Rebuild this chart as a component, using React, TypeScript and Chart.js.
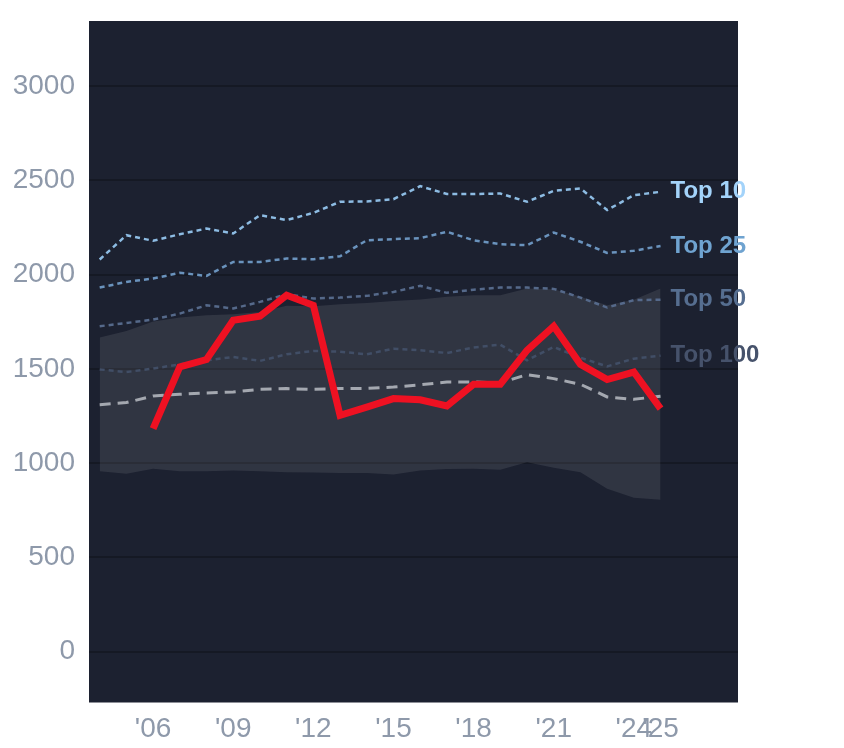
import { useEffect, useRef } from "react";
import { Chart, registerables } from "chart.js";

Chart.register(...registerables);

const years = [2004, 2005, 2006, 2007, 2008, 2009, 2010, 2011, 2012, 2013, 2014, 2015, 2016, 2017, 2018, 2019, 2020, 2021, 2022, 2023, 2024, 2025];
const top10 = [2080, 2209, 2179, 2214, 2244, 2218, 2315, 2289, 2327, 2386, 2388, 2400, 2469, 2427, 2427, 2430, 2386, 2444, 2457, 2342, 2421, 2439];
const top25 = [1931, 1961, 1979, 2009, 1993, 2067, 2067, 2085, 2081, 2097, 2182, 2188, 2193, 2227, 2182, 2161, 2156, 2223, 2174, 2115, 2126, 2152];
const top50 = [1726, 1743, 1761, 1793, 1837, 1820, 1855, 1896, 1873, 1878, 1887, 1908, 1940, 1903, 1920, 1931, 1931, 1924, 1878, 1825, 1864, 1867];
const top100 = [1497, 1483, 1501, 1524, 1545, 1563, 1542, 1577, 1595, 1591, 1577, 1607, 1598, 1584, 1613, 1628, 1545, 1616, 1559, 1513, 1554, 1570];
const median = [1310, 1321, 1356, 1365, 1372, 1377, 1391, 1395, 1391, 1395, 1396, 1403, 1415, 1430, 1430, 1425, 1469, 1448, 1418, 1351, 1338, 1355];
const bandHigh = [1666, 1701, 1751, 1772, 1784, 1789, 1802, 1834, 1832, 1843, 1849, 1860, 1868, 1882, 1890, 1890, 1926, 1922, 1882, 1837, 1867, 1926];
const bandLow = [956, 943, 970, 957, 957, 961, 957, 952, 950, 948, 947, 940, 961, 968, 970, 965, 1004, 975, 952, 864, 816, 805];
const redYears = [2006, 2007, 2008, 2009, 2010, 2011, 2012, 2013, 2014, 2015, 2016, 2017, 2018, 2019, 2020, 2021, 2022, 2023, 2024, 2025];
const red = [1183, 1510, 1549, 1758, 1779, 1890, 1837, 1253, 1297, 1342, 1336, 1303, 1418, 1418, 1598, 1726, 1524, 1443, 1483, 1289];

const xTicks = [2006, 2009, 2012, 2015, 2018, 2021, 2024, 2025];
const yTicks = [0, 500, 1000, 1500, 2000, 2500, 3000];

const lineLabels = ["Top 10", "Top 25", "Top 50", "Top 100"];
const lineSeries = [top10, top25, top50, top100];
const lineColors = ["#8dbce3", "#6a93bd", "#55698a", "#414e66"];
const labelColors = ["#a3d3fa", "#6fa3d0", "#566e90", "#46526b"];

const FONT = "'Liberation Sans', Arial, sans-serif";

export default function App() {
  const ref = useRef<HTMLCanvasElement>(null);

  useEffect(() => {
    document.body.style.margin = "0";
    const pts = (xs: number[], vs: number[]) => vs.map((v, i) => ({ x: xs[i], y: v }));

    const bgPlugin = {
      id: "bg",
      beforeDraw(chart: any) {
        const { ctx, chartArea } = chart;
        ctx.save();
        ctx.fillStyle = "#1c2130";
        ctx.fillRect(chartArea.left, chartArea.top, chartArea.right - chartArea.left, chartArea.bottom - chartArea.top);
        ctx.restore();
      },
    };

    const labelPlugin = {
      id: "endLabels",
      afterDatasetsDraw(chart: any) {
        const { ctx } = chart;
        const xs = chart.scales.x;
        const ys = chart.scales.y;
        ctx.save();
        ctx.font = `bold 24px ${FONT}`;
        ctx.textAlign = "left";
        ctx.textBaseline = "middle";
        lineSeries.forEach((s, i) => {
          const last = s.length - 1;
          const px = xs.getPixelForValue(years[last]) + 10;
          const py = ys.getPixelForValue(s[last]);
          ctx.fillStyle = labelColors[i];
          ctx.fillText(lineLabels[i], px, py);
        });
        ctx.restore();
      },
    };

    const lineDs = lineSeries.map((s, i) => ({
      label: lineLabels[i],
      data: pts(years, s),
      borderColor: lineColors[i],
      borderWidth: 2.5,
      borderDash: [5, 4],
      pointRadius: 0,
      fill: false,
      order: 2 + i,
    }));

    const chart = new Chart(ref.current as HTMLCanvasElement, {
      type: "line",
      data: {
        datasets: [
          {
            label: "Rating",
            data: pts(redYears, red),
            borderColor: "#ee1122",
            borderWidth: 7,
            pointRadius: 0,
            fill: false,
            order: 0,
          },
          ...lineDs,
          {
            label: "Median",
            data: pts(years, median),
            borderColor: "#a4a8b0",
            borderWidth: 3,
            borderDash: [11, 7],
            pointRadius: 0,
            fill: false,
            order: 1,
          },
          {
            label: "low",
            data: pts(years, bandLow),
            borderColor: "transparent",
            borderWidth: 0,
            pointRadius: 0,
            fill: false,
            order: 10,
          },
          {
            label: "high",
            data: pts(years, bandHigh),
            borderColor: "transparent",
            borderWidth: 0,
            pointRadius: 0,
            backgroundColor: "rgba(255,255,255,0.09)",
            fill: "-1",
            order: 11,
          },
        ] as any,
      },
      options: {
        animation: false,
        responsive: false,
        layout: { padding: { top: 21, right: 106, left: 0, bottom: 0 } },
        elements: { line: { tension: 0 } },
        plugins: {
          legend: { display: false },
          tooltip: { enabled: false },
        },
        scales: {
          x: {
            type: "linear",
            min: 2003.6,
            max: 2027.9,
            grid: { display: false },
            border: { display: false },
            afterBuildTicks: (scale: any) => {
              scale.ticks = xTicks.map((v) => ({ value: v }));
            },
            afterFit: (scale: any) => {
              scale.height = 45.5;
              scale.paddingLeft = 0;
              scale.paddingRight = 0;
            },
            ticks: {
              autoSkip: false,
              maxRotation: 0,
              padding: 2,
              color: "#8e99aa",
              font: { family: FONT, size: 28 },
              callback: (v: any) => "'" + String(v).slice(2),
            },
          },
          y: {
            type: "linear",
            min: -270,
            max: 3345,
            grid: { color: "#151924", lineWidth: 2, drawTicks: false },
            border: { display: false },
            afterBuildTicks: (scale: any) => {
              scale.ticks = yTicks.map((v) => ({ value: v }));
            },
            afterFit: (scale: any) => {
              scale.width = 89;
              scale.paddingTop = 0;
              scale.paddingBottom = 0;
            },
            ticks: {
              padding: 14,
              color: "#8e99aa",
              font: { family: FONT, size: 28 },
              callback: (v: any) => String(v),
            },
          },
        },
      },
      plugins: [bgPlugin, labelPlugin],
    } as any);

    return () => chart.destroy();
  }, []);

  return (
    <div style={{ position: "fixed", left: 0, top: 0, width: 844, height: 748, background: "#ffffff" }}>
      <canvas ref={ref} width={844} height={748} style={{ width: 844, height: 748, display: "block" }} />
    </div>
  );
}
